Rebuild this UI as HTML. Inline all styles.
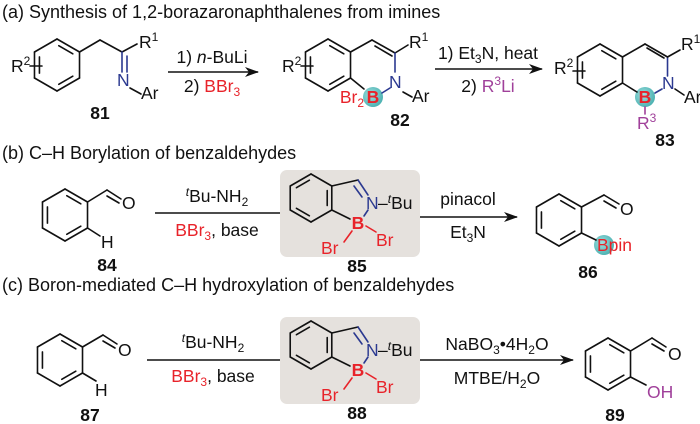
<!DOCTYPE html>
<html><head><meta charset="utf-8"><style>
html,body{margin:0;padding:0;background:#fff;width:700px;height:424px;overflow:hidden}
svg{display:block}
text{font-family:"Liberation Sans",Arial,sans-serif;font-size:17.5px;fill:#111}
.t{font-size:18px}
.r{fill:#e8232a}.p{fill:#a0409a}.bl{fill:#2b3990}.b{font-weight:bold}
</style></head><body>
<svg id="s" width="700" height="424" viewBox="0 0 700 424">
<defs><radialGradient id="g" cx="0.4" cy="0.4" r="0.6"><stop offset="0" stop-color="#9fe0e0"/><stop offset="1" stop-color="#4fb3b3"/></radialGradient>
<marker id="ah" markerWidth="14" markerHeight="10" refX="13" refY="5" orient="auto" markerUnits="userSpaceOnUse"><path d="M0,0 L14,5 L0,10 L4,5Z" fill="#111"/></marker></defs>
<rect x="280" y="170" width="140" height="87" rx="7" fill="#e5e1dd"/>
<rect x="280" y="317" width="140" height="87" rx="7" fill="#e5e1dd"/>
<circle cx="373" cy="97" r="10" fill="url(#g)"/>
<circle cx="645" cy="97" r="10" fill="url(#g)"/>
<circle cx="604" cy="245" r="10" fill="url(#g)"/>
<g id="bonds" stroke="#111" stroke-width="1.6" fill="none" stroke-linecap="round"></g>
<g stroke="#111" stroke-width="1.6">
<line x1="168" y1="72" x2="258" y2="72" marker-end="url(#ah)"/>
<line x1="435" y1="69" x2="542" y2="69" marker-end="url(#ah)"/>
<line x1="155" y1="213" x2="280" y2="213"/>
<line x1="420" y1="217" x2="517" y2="217" marker-end="url(#ah)"/>
<line x1="147" y1="360" x2="280" y2="360"/>
<line x1="420" y1="360" x2="573" y2="360" marker-end="url(#ah)"/>
</g>
<text class="t" x="2" y="18">(a) Synthesis of 1,2-borazaronaphthalenes from imines</text>
<text class="t" x="2" y="159">(b) C–H Borylation of benzaldehydes</text>
<text class="t" x="2" y="291">(c) Boron-mediated C–H hydroxylation of benzaldehydes</text>
<!-- 81 -->
<text x="11" y="72">R<tspan font-size="12" dy="-7">2</tspan></text>
<text x="139" y="48">R<tspan font-size="12" dy="-7">1</tspan></text>
<text x="117" y="86" class="bl">N</text>
<text x="141" y="99">Ar</text>
<text x="100" y="119" class="b" text-anchor="middle">81</text>
<text x="212" y="63" text-anchor="middle">1) <tspan font-style="italic">n</tspan>-BuLi</text>
<text x="212" y="92" text-anchor="middle">2) <tspan class="r">BBr<tspan font-size="12" dy="4">3</tspan></tspan></text>
<!-- 82 -->
<text x="282" y="72">R<tspan font-size="12" dy="-7">2</tspan></text>
<text x="409" y="48">R<tspan font-size="12" dy="-7">1</tspan></text>
<text x="389" y="88" class="bl">N</text>
<text x="412" y="102">Ar</text>
<text x="364" y="103" class="r" text-anchor="end">Br<tspan font-size="12" dy="4">2</tspan></text>
<text x="373" y="103" class="r b" text-anchor="middle">B</text>
<text x="400" y="126" class="b" text-anchor="middle">82</text>
<text x="488" y="59" text-anchor="middle">1) Et<tspan font-size="12" dy="4">3</tspan><tspan dy="-4">N, heat</tspan></text>
<text x="488" y="92" text-anchor="middle">2) <tspan class="p">R<tspan font-size="12" dy="-7">3</tspan><tspan dy="7">Li</tspan></tspan></text>
<!-- 83 -->
<text x="554" y="74">R<tspan font-size="12" dy="-7">2</tspan></text>
<text x="681" y="50">R<tspan font-size="12" dy="-7">1</tspan></text>
<text x="662" y="89" class="bl">N</text>
<text x="684" y="103">Ar</text>
<text x="645" y="103" class="r b" text-anchor="middle">B</text>
<text x="637" y="129" class="p">R<tspan font-size="12" dy="-7">3</tspan></text>
<text x="665" y="146" class="b" text-anchor="middle">83</text>
<!-- 84 -->
<text x="122" y="209">O</text>
<text x="101" y="248">H</text>
<text x="107" y="271" class="b" text-anchor="middle">84</text>
<text x="217" y="202" text-anchor="middle"><tspan font-size="12" font-style="italic" dy="-6">t</tspan><tspan dy="6">Bu-NH</tspan><tspan font-size="12" dy="4">2</tspan></text>
<text x="217" y="236" text-anchor="middle"><tspan class="r">BBr<tspan font-size="12" dy="4">3</tspan></tspan><tspan dy="-4">, base</tspan></text>
<!-- 85 -->
<text x="366" y="209" class="bl">N</text><text x="378" y="209">–<tspan font-size="12" font-style="italic" dy="-6">t</tspan><tspan dy="6">Bu</tspan></text>
<text x="358" y="229" class="r b" text-anchor="middle">B</text>
<text x="321" y="254" class="r">Br</text>
<text x="376" y="246" class="r">Br</text>
<text x="357" y="272" class="b" text-anchor="middle">85</text>
<text x="468" y="205" text-anchor="middle">pinacol</text>
<text x="468" y="238" text-anchor="middle">Et<tspan font-size="12" dy="4">3</tspan><tspan dy="-4">N</tspan></text>
<!-- 86 -->
<text x="620" y="215">O</text>
<text x="597" y="251" class="r">Bpin</text>
<text x="588" y="278" class="b" text-anchor="middle">86</text>
<!-- 87 -->
<text x="118" y="356">O</text>
<text x="95" y="396">H</text>
<text x="90" y="421" class="b" text-anchor="middle">87</text>
<text x="213" y="348" text-anchor="middle"><tspan font-size="12" font-style="italic" dy="-6">t</tspan><tspan dy="6">Bu-NH</tspan><tspan font-size="12" dy="4">2</tspan></text>
<text x="213" y="382" text-anchor="middle"><tspan class="r">BBr<tspan font-size="12" dy="4">3</tspan></tspan><tspan dy="-4">, base</tspan></text>
<!-- 88 -->
<text x="366" y="356" class="bl">N</text><text x="378" y="356">–<tspan font-size="12" font-style="italic" dy="-6">t</tspan><tspan dy="6">Bu</tspan></text>
<text x="358" y="376" class="r b" text-anchor="middle">B</text>
<text x="321" y="401" class="r">Br</text>
<text x="376" y="393" class="r">Br</text>
<text x="357" y="419" class="b" text-anchor="middle">88</text>
<text x="497" y="350" text-anchor="middle">NaBO<tspan font-size="12" dy="4">3</tspan><tspan dy="-4">•4H</tspan><tspan font-size="12" dy="4">2</tspan><tspan dy="-4">O</tspan></text>
<text x="497" y="384" text-anchor="middle">MTBE/H<tspan font-size="12" dy="4">2</tspan><tspan dy="-4">O</tspan></text>
<!-- 89 -->
<text x="668" y="360">O</text>
<text x="647" y="398" class="p">OH</text>
<text x="615" y="421" class="b" text-anchor="middle">89</text>
</svg>
<script>
var G=document.getElementById('bonds'),NS='http://www.w3.org/2000/svg';
function L(a,b,c,d,col){var l=document.createElementNS(NS,'line');l.setAttribute('x1',a);l.setAttribute('y1',b);l.setAttribute('x2',c);l.setAttribute('y2',d);if(col)l.setAttribute('stroke',col);G.appendChild(l);}
function V(cx,cy,r){var v=[];for(var i=0;i<6;i++){var a=(-90+60*i)*Math.PI/180;v.push([cx+r*Math.cos(a),cy+r*Math.sin(a)]);}return v;}
function ring(cx,cy,r,dbl,skip){var v=V(cx,cy,r);skip=skip||[];for(var i=0;i<6;i++){if(skip.indexOf(i)>=0)continue;var a=v[i],b=v[(i+1)%6];L(a[0],a[1],b[0],b[1]);}
 dbl.forEach(function(i){var a=v[i],b=v[(i+1)%6];var k=0.78;var p=[cx+k*(a[0]-cx),cy+k*(a[1]-cy)],q=[cx+k*(b[0]-cx),cy+k*(b[1]-cy)];var s=0.1;L(p[0]+(q[0]-p[0])*s,p[1]+(q[1]-p[1])*s,q[0]-(q[0]-p[0])*s,q[1]-(q[1]-p[1])*s);});return v;}
var B='#2b3990',R='#e8232a',P='#a0409a';
var v=ring(57,65,26,[0,2,4]);
L(30,66,42,66);
L(v[1][0],v[1][1],100,40);L(100,40,122,52);L(122,52,137,44);
L(122,52,122,72,B);L(127,56,127,72,B);L(130,88,141,94);
v=ring(328,65,26,[0,2,4]);
L(301,66,313,66);
L(v[1][0],v[1][1],372,40);L(372,40,395,53);L(375,46,392,56);L(395,53,408,45);
L(395,53,395,72,B);L(v[2][0],v[2][1],364,89);L(382,93,390,88,B);L(403,92,412,97);
v=ring(600,70,26,[0,2,4]);
L(573,71,585,71);
var w=V(645,70,26);
L(w[5][0],w[5][1],w[0][0],w[0][1]);L(w[0][0],w[0][1],w[1][0],w[1][1]);
L(647,48,664,58);
L(w[1][0],w[1][1],w[1][0],76,B);L(w[1][0],w[1][1],680,50);
L(662,89,655,93,B);L(w[4][0],w[4][1],637,92);L(675,89,684,95);
L(645,107,645,114,P);
v=ring(65,215,26,[0,2,4]);
L(v[1][0],v[1][1],107,190);L(107,190,121,199);L(107,196,119,203);L(v[2][0],v[2][1],100,236);
function iso(dy){var v=ring(311,198+dy,24,[5,1,3]);
 L(v[1][0],v[1][1],358,180+dy);L(358,180+dy,368,195+dy,B);L(354,186+dy,362,197+dy,B);
 L(368,210+dy,364,216+dy,B);L(v[2][0],v[2][1],350,219+dy);L(352,231+dy,344,242+dy,R);L(366,226+dy,376,232+dy,R);}
iso(0);iso(147);
v=ring(559,220,26,[0,2,4]);
L(v[1][0],v[1][1],604,195);L(604,195,619,204);L(604,201,616,208);L(v[2][0],v[2][1],596,240);
v=ring(60,360,26,[0,2,4]);
L(v[1][0],v[1][1],103,335);L(103,335,117,344);L(103,341,115,348);L(v[2][0],v[2][1],96,381);
v=ring(608,364,26,[0,2,4]);
L(v[1][0],v[1][1],652,338);L(652,338,666,347);L(652,344,664,351);L(v[2][0],v[2][1],646,385);
</script>
</body></html>
